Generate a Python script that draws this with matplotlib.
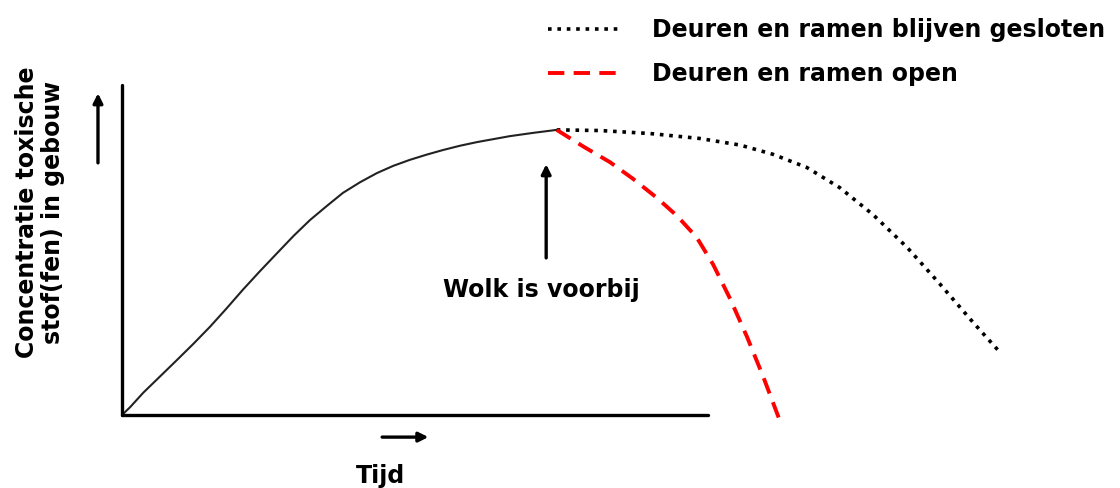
import numpy as np
import matplotlib as mpl
mpl.use('agg')
import matplotlib.pyplot as plt

## curve values (time units, concentration units)
rise_t = [0, 1.4, 3.6, 6.5, 9.4, 12.2, 15.0, 17.8, 20.6, 23.5, 26.5, 29.3, 32.1, 35.0, 37.7,
          40.6, 43.5, 46.3, 49.1, 52.0, 54.8, 57.7, 60.6, 63.4, 66.2, 70.2, 74.2]
rise_c = [0, 2.4, 6.7, 11.7, 16.7, 21.6, 26.7, 32.2, 37.9, 43.5, 49.1, 54.3, 59.1, 63.4, 67.3,
          70.5, 73.3, 75.5, 77.3, 78.9, 80.3, 81.6, 82.7, 83.6, 84.5, 85.5, 86.4]

closed_t = [74.2, 81.6, 90.1, 98.6, 105.5, 111.1, 116.9, 122.5, 128.2, 134.0, 139.6, 145.2, 149.5]
closed_c = [86.4, 86.2, 85.3, 83.8, 81.8, 79.0, 75.0, 68.9, 60.7, 50.8, 39.7, 28.2, 19.7]

open_t = [74.2, 78.7, 83.3, 87.2, 91.3, 94.7, 98.1, 100.9, 103.8, 106.7, 109.4, 112.3]
open_c = [86.4, 81.4, 76.6, 71.6, 65.8, 60.4, 53.8, 45.6, 35.2, 23.6, 11.8, -1.8]

label_closed = 'Deuren en ramen blijven gesloten'
label_open = 'Deuren en ramen open'

plt.rcParams['font.family'] = ['DejaVu Sans']
plt.rcParams['font.weight'] = 'bold'
fs = 17

fig = plt.figure(figsize=(11.2, 4.88), dpi=100)
ax = fig.add_axes([122 / 1120, 7 / 488, 996 / 1120, 396 / 488])
ax.set_xlim(0, 170)
ax.set_ylim(-20, 100)

ax.plot(rise_t, rise_c, color='#222222', lw=1.5, solid_capstyle='round')
l1, = ax.plot(closed_t, closed_c, color='black', lw=2.6, linestyle=(0, (1, 1.6)),
              clip_on=False, label=label_closed)
l2, = ax.plot(open_t, open_c, color='#ff0000', lw=2.8, linestyle=(0, (4.2, 2.4)),
              clip_on=False, label=label_open)

for s in ['top', 'right']:
    ax.spines[s].set_visible(False)
ax.spines['left'].set_position(('data', 0))
ax.spines['bottom'].set_position(('data', 0))
ax.spines['left'].set_bounds(0, 100)
ax.spines['bottom'].set_bounds(0, 100)
for s in ['left', 'bottom']:
    ax.spines[s].set_linewidth(2.4)
    ax.spines[s].set_capstyle('round')
ax.set_xticks([])
ax.set_yticks([])
ax.patch.set_alpha(0)

arrow = dict(arrowstyle='-|>', lw=2.4, color='black', mutation_scale=14, shrinkA=0, shrinkB=0)
ax.annotate('', xy=(72.4, 76.0), xytext=(72.4, 47.6), arrowprops=arrow, annotation_clip=False)
ax.text(71.5, 37.9, 'Wolk is voorbij', ha='center', va='center', fontsize=fs, fontweight='bold')
ax.annotate('', xy=(-4.1, 97.5), xytext=(-4.1, 76.4), arrowprops=arrow, annotation_clip=False)
ax.annotate('', xy=(52.3, -6.7), xytext=(44.4, -6.7), arrowprops=arrow, annotation_clip=False)
ax.text(44.2, -18.5, 'Tijd', ha='center', va='center', fontsize=fs, fontweight='bold')

fig.text(40 / 1120, 1 - 212 / 488, 'Concentratie toxische\nstof(fen) in gebouw', rotation=90,
         ha='center', va='center', fontsize=fs, fontweight='bold', linespacing=1.15)

fig.legend(handles=[l1, l2], loc='upper left', bbox_to_anchor=(548 / 1120, 1 - 18 / 488),
           frameon=False, fontsize=fs, handlelength=3.1, handletextpad=1.3,
           labelspacing=0.85, borderpad=0, borderaxespad=0)

fig.savefig('out.png', dpi=100)
